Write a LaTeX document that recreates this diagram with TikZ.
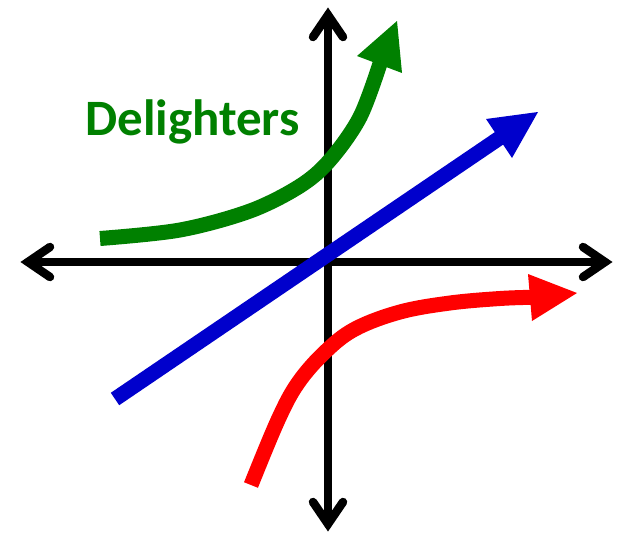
\documentclass[tikz,border=0pt]{standalone}
\usepackage{fontspec}
\setmainfont{Carlito}
\definecolor{dgreen}{RGB}{0,128,0}
\definecolor{dblue}{RGB}{0,0,204}
\definecolor{dred}{RGB}{255,0,0}
\begin{document}
\begin{tikzpicture}[x=1pt,y=-1pt,
  axisline/.style={line width=8.5pt, black},
  barb/.style={line width=8.5pt, black, line cap=round, line join=miter, miter limit=10},
  curve/.style={line width=15pt, line cap=butt},
]
\useasboundingbox (0,0) rectangle (621,533);
% axes
\coordinate (L) at (28,262);
\coordinate (R) at (605,262);
\coordinate (T) at (328,15);
\coordinate (B) at (328,524);
\draw[axisline] (L) -- (R);
\draw[axisline] (T) -- (B);
\draw[barb] (50,247) -- (L) -- (50,277);
\draw[barb] (583,247) -- (R) -- (583,277);
\draw[barb] (313,37) -- (T) -- (343,37);
\draw[barb] (313,502) -- (B) -- (343,502);
% green curve
\draw[dgreen, curve] plot[smooth, tension=0.55] coordinates {(100,238.5) (180,230) (250,211) (300,186) (330,160) (360,117) (380.6,61.7)};
\fill[dgreen] (397,21) -- (357,56) -- (402,73) -- cycle;
% blue line
\draw[dblue, curve] (115,399) -- (501,137);
\fill[dblue] (538,112) -- (486,119) -- (512,158) -- cycle;
% red curve
\draw[dred, curve] plot[smooth, tension=0.6] coordinates {(251,485) (278,420) (298,383) (325,352) (355,329) (400,312) (450,303) (500,298.5) (532,297.3)};
\fill[dred] (577,293) -- (528,274) -- (532,321) -- cycle;
% label
\node[dgreen, font=\bfseries\fontsize{51}{51}\selectfont, anchor=base, inner sep=0] (lbl) at (192.5,135) {Delighters};
\end{tikzpicture}
\end{document}
